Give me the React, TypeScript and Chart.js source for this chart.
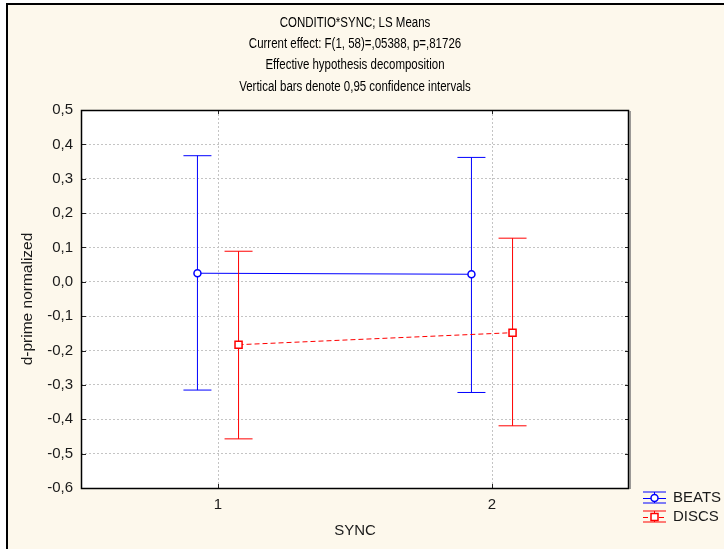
import { useEffect, useRef } from "react";
import { Chart, registerables } from "chart.js";

Chart.register(...registerables);

// ---- data ----
const titleLines = [
  "CONDITIO*SYNC; LS Means",
  "Current effect: F(1, 58)=,05388, p=,81726",
  "Effective hypothesis decomposition",
  "Vertical bars denote 0,95 confidence intervals",
];
const syncLevels = [1, 2];
const yTickValues = [-0.6, -0.5, -0.4, -0.3, -0.2, -0.1, 0, 0.1, 0.2, 0.3, 0.4, 0.5];
const seriesNames = ["BEATS", "DISCS"];
const beatsMean = [0.025, 0.022];
const beatsLower = [-0.315, -0.322];
const beatsUpper = [0.367, 0.362];
const discsMean = [-0.183, -0.148];
const discsLower = [-0.457, -0.419];
const discsUpper = [0.089, 0.127];

// ---- styling ----
const FONT = "'Liberation Sans', Arial, sans-serif";
const BLUE = "#0000ff";
const RED = "#ff0000";
const PANEL = "#fdf8ec";
const DODGE = 0.075; // horizontal offset of each series around the SYNC level
const CAP = 14; // half width of error-bar caps in px
const TITLE_SIZE = 14;
const TITLE_SQUEEZE = 0.82; // condensed look of the header lines
const TITLE_TOP = 23;
const TITLE_STEP = 21.3;

const fmt = (v: number) => (Math.abs(v) < 1e-9 ? 0 : v).toFixed(1).replace(".", ",");

function drawMarker(ctx: CanvasRenderingContext2D, style: string, x: number, y: number, color: string) {
  ctx.save();
  ctx.setLineDash([]);
  ctx.fillStyle = "#ffffff";
  ctx.strokeStyle = color;
  ctx.lineWidth = 1.5;
  ctx.beginPath();
  if (style === "rect") ctx.rect(x - 3.5, y - 3.5, 7, 7);
  else ctx.arc(x, y, 3.5, 0, Math.PI * 2);
  ctx.fill();
  ctx.stroke();
  ctx.restore();
}

const statPlot = {
  id: "statPlot",
  beforeDraw(chart: any) {
    const { ctx, width, height, chartArea: a } = chart;
    ctx.save();
    ctx.fillStyle = "#ffffff";
    ctx.fillRect(0, 0, width, height);
    ctx.fillStyle = PANEL;
    ctx.fillRect(8, 5, width - 8, height - 5);
    ctx.fillStyle = "#000000";
    ctx.fillRect(6, 3, 2, height - 3);
    ctx.fillRect(6, 3, width - 6, 2);
    ctx.fillStyle = "#ffffff";
    ctx.fillRect(a.left, a.top, a.right - a.left, a.bottom - a.top);

    // header lines, centred over the plot area
    const cx = (a.left + a.right) / 2;
    ctx.fillStyle = "#000000";
    ctx.font = `${TITLE_SIZE}px ${FONT}`;
    ctx.textAlign = "center";
    ctx.textBaseline = "middle";
    titleLines.forEach((line, i) => {
      ctx.save();
      ctx.translate(cx, TITLE_TOP + i * TITLE_STEP);
      ctx.scale(TITLE_SQUEEZE, 1);
      ctx.fillText(line, 0, 0);
      ctx.restore();
    });
    ctx.restore();
  },
  beforeDatasetDraw(chart: any, args: any) {
    const ds = chart.data.datasets[args.index];
    const ys = chart.scales.y;
    const ctx = chart.ctx;
    ctx.save();
    ctx.strokeStyle = ds.borderColor;
    ctx.lineWidth = 1;
    ctx.setLineDash([]);
    args.meta.data.forEach((pt: any, i: number) => {
      const x = pt.x;
      const top = ys.getPixelForValue(ds.upper[i]);
      const bot = ys.getPixelForValue(ds.lower[i]);
      ctx.beginPath();
      ctx.moveTo(x, top);
      ctx.lineTo(x, bot);
      ctx.moveTo(x - CAP, top);
      ctx.lineTo(x + CAP, top);
      ctx.moveTo(x - CAP, bot);
      ctx.lineTo(x + CAP, bot);
      ctx.stroke();
    });
    ctx.restore();
  },
  afterDraw(chart: any) {
    const { ctx, chartArea: a } = chart;
    const xs = chart.scales.x;
    const ys = chart.scales.y;
    ctx.save();
    // inward tick marks on all four sides
    ctx.strokeStyle = "#222222";
    ctx.lineWidth = 1;
    ctx.beginPath();
    yTickValues.forEach((v) => {
      const y = Math.round(ys.getPixelForValue(v)) + 0.5;
      ctx.moveTo(a.left, y);
      ctx.lineTo(a.left + 5, y);
      ctx.moveTo(a.right - 4, y);
      ctx.lineTo(a.right, y);
    });
    syncLevels.forEach((v) => {
      const x = Math.round(xs.getPixelForValue(v)) + 0.5;
      ctx.moveTo(x, a.bottom);
      ctx.lineTo(x, a.bottom - 4);
      ctx.moveTo(x, a.top);
      ctx.lineTo(x, a.top + 4);
    });
    ctx.stroke();
    // plot frame
    ctx.strokeStyle = "#000000";
    ctx.lineWidth = 1.5;
    ctx.strokeRect(a.left + 0.5, a.top + 0.5, a.right - a.left - 1, a.bottom - a.top);
    ctx.strokeStyle = "#7a7a7a";
    ctx.lineWidth = 1.5;
    ctx.beginPath();
    ctx.moveTo(a.right + 1, a.top + 1);
    ctx.lineTo(a.right + 1, a.bottom + 1);
    ctx.stroke();

    // legend
    const x0 = a.right + 14;
    const x1 = x0 + 23;
    const xm = (x0 + x1) / 2;
    chart.data.datasets.forEach((ds: any, i: number) => {
      const cy = a.bottom + 10 + i * 19;
      ctx.strokeStyle = ds.borderColor;
      ctx.lineWidth = 1;
      ctx.setLineDash([]);
      ctx.beginPath();
      ctx.moveTo(x0, cy - 6);
      ctx.lineTo(x1, cy - 6);
      ctx.moveTo(x0, cy + 5);
      ctx.lineTo(x1, cy + 5);
      ctx.moveTo(xm, cy - 6);
      ctx.lineTo(xm, cy + 5);
      ctx.stroke();
      ctx.setLineDash(ds.borderDash || []);
      ctx.beginPath();
      ctx.moveTo(x0, cy + 0.5);
      ctx.lineTo(x1, cy + 0.5);
      ctx.stroke();
      ctx.setLineDash([]);
      drawMarker(ctx, ds.pointStyle, xm, cy, ds.borderColor);
      ctx.fillStyle = "#1a1a1a";
      ctx.font = `15px ${FONT}`;
      ctx.textAlign = "left";
      ctx.textBaseline = "middle";
      ctx.fillText(ds.label, x1 + 7, cy);
    });
    ctx.restore();
  },
};

export default function App() {
  const canvasRef = useRef<HTMLCanvasElement | null>(null);

  useEffect(() => {
    const canvas = canvasRef.current;
    if (!canvas) return;

    const datasets = [
      {
        label: seriesNames[0],
        data: syncLevels.map((s, i) => ({ x: s - DODGE, y: beatsMean[i] })),
        lower: beatsLower,
        upper: beatsUpper,
        borderColor: BLUE,
        borderWidth: 1,
        pointStyle: "circle",
        pointRadius: 3.5,
        pointBorderWidth: 1.5,
        pointBackgroundColor: "#ffffff",
        pointBorderColor: BLUE,
        order: 1,
      },
      {
        label: seriesNames[1],
        data: syncLevels.map((s, i) => ({ x: s + DODGE, y: discsMean[i] })),
        lower: discsLower,
        upper: discsUpper,
        borderColor: RED,
        borderWidth: 1,
        borderDash: [5, 3],
        pointStyle: "rect",
        pointRadius: 5,
        pointBorderWidth: 1.5,
        pointBackgroundColor: "#ffffff",
        pointBorderColor: RED,
        order: 0,
      },
    ];

    const chart = new Chart(canvas, {
      type: "line",
      data: { datasets } as any,
      plugins: [statPlot],
      options: {
        animation: false,
        responsive: false,
        devicePixelRatio: 1,
        layout: { padding: { top: 110, right: 95, bottom: 0, left: 0 } },
        plugins: {
          legend: { display: false },
          tooltip: { enabled: false },
          title: { display: false },
        },
        scales: {
          x: {
            type: "linear",
            min: 0.5,
            max: 2.5,
            afterBuildTicks: (scale: any) => {
              scale.ticks = syncLevels.map((v) => ({ value: v }));
            },
            afterFit: (scale: any) => {
              scale.height = 61;
            },
            ticks: {
              color: "#1a1a1a",
              font: { family: FONT, size: 15 },
              padding: 8,
              callback: (v: any) => String(v),
            },
            grid: { color: "#c4c4c4", lineWidth: 1, drawTicks: false },
            border: { display: false, dash: [2, 2] },
            title: {
              display: true,
              text: "SYNC",
              color: "#1a1a1a",
              font: { family: FONT, size: 15 },
              padding: { top: 0, bottom: 9 },
            },
          },
          y: {
            type: "linear",
            min: -0.6,
            max: 0.5,
            afterBuildTicks: (scale: any) => {
              scale.ticks = yTickValues.map((v) => ({ value: v }));
            },
            afterFit: (scale: any) => {
              scale.width = 81;
            },
            ticks: {
              color: "#1a1a1a",
              font: { family: FONT, size: 15 },
              padding: 8,
              callback: (v: any) => fmt(Number(v)),
            },
            grid: { color: "#c4c4c4", lineWidth: 1, drawTicks: false },
            border: { display: false, dash: [2, 2] },
            title: {
              display: true,
              text: "d-prime normalized",
              color: "#1a1a1a",
              font: { family: FONT, size: 15.5 },
              padding: { top: 18, bottom: 0 },
            },
          },
        },
      } as any,
    });

    return () => chart.destroy();
  }, []);

  return (
    <div style={{ position: "fixed", left: 0, top: 0, width: 724, height: 549 }}>
      <canvas ref={canvasRef} width={724} height={549} style={{ display: "block" }} />
    </div>
  );
}
